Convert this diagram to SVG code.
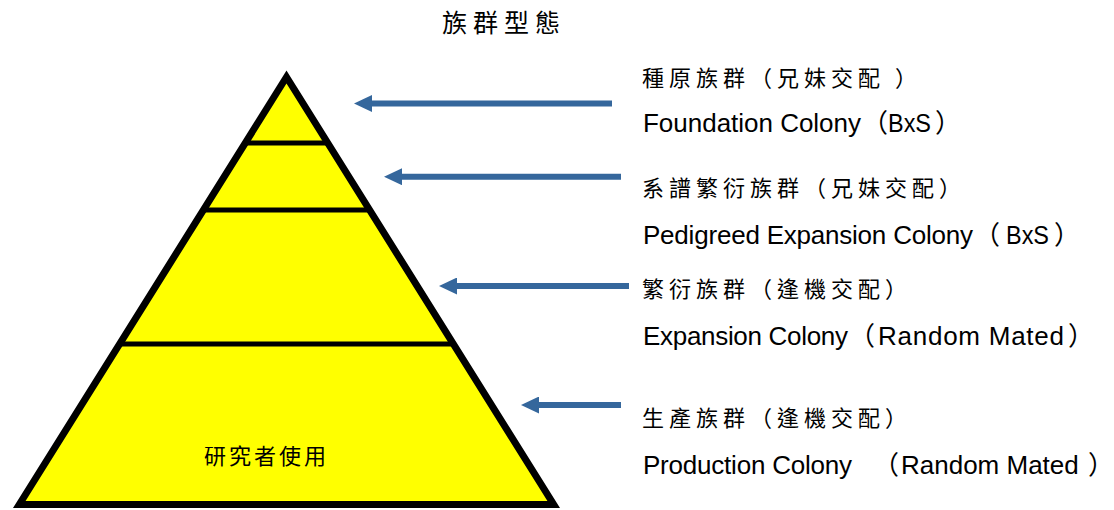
<svg xmlns="http://www.w3.org/2000/svg" width="1114" height="510" viewBox="0 0 1114 510">
  <style>
    .tier { fill: #FFFF00; stroke: none; }
    .divider { stroke: #000000; stroke-width: 5; }
    .outline { fill: none; stroke: #000000; stroke-width: 7; stroke-linejoin: miter; stroke-miterlimit: 10; }
    .arrow { stroke: #35679C; stroke-width: 6; fill: none; marker-end: url(#head); }
    .cjk { font-family: "Noto Sans CJK TC", "Noto Sans CJK SC", sans-serif; font-size: 22px; letter-spacing: 5px; fill: #000000; }
    .en { font-family: "Liberation Sans", Arial, sans-serif; font-size: 26px; fill: #000000; }
    .par { font-family: "Noto Sans CJK TC", "Noto Sans CJK SC", sans-serif; font-size: 26px; fill: #000000; }
  </style>
  <defs>
    <marker id="head" markerUnits="userSpaceOnUse" markerWidth="18" markerHeight="17" refX="8" refY="8.5" orient="auto" viewBox="0 0 18 17">
      <path d="M0,0 L18,8.5 L0,17 Z" fill="#35679C"/>
    </marker>
  </defs>

  <rect width="1114" height="510" fill="#FFFFFF"/>

  <g id="title">
    <text class="cjk" x="442" y="32" style="font-size:25px;letter-spacing:6px">族群型態</text>
  </g>

  <g id="pyramid">
    <g id="tier-foundation">
      <polygon class="tier" points="286.5,77 327.7,143 245.3,143"/>
    </g>
    <g id="tier-pedigreed">
      <polygon class="tier" points="245.3,143 327.7,143 369.6,210 203.4,210"/>
    </g>
    <g id="tier-expansion">
      <polygon class="tier" points="203.4,210 369.6,210 453.3,344 119.7,344"/>
    </g>
    <g id="tier-production">
      <polygon class="tier" points="119.7,344 453.3,344 553.7,504.5 19.3,504.5"/>
      <text class="cjk" x="204" y="464" style="font-size:22px;letter-spacing:3px">研究者使用</text>
    </g>
    <line class="divider" x1="245.3" y1="143" x2="327.7" y2="143"/>
    <line class="divider" x1="203.4" y1="210" x2="369.6" y2="210"/>
    <line class="divider" x1="119.7" y1="344" x2="453.3" y2="344"/>
    <polygon class="outline" points="286.5,77 553.7,504.5 19.3,504.5"/>
  </g>

  <g id="connectors">
    <line class="arrow" x1="612" y1="103.5" x2="364" y2="103.5"/>
    <line class="arrow" x1="621" y1="176.7" x2="394" y2="176.7"/>
    <line class="arrow" x1="629" y1="286" x2="449" y2="286"/>
    <line class="arrow" x1="621" y1="405" x2="531" y2="405"/>
  </g>

  <g id="label-foundation">
    <text class="cjk" x="642" y="86">種原族群（兄妹交配 ）</text>
    <text class="en" x="643" y="132" textLength="218">Foundation Colony</text>
    <text class="par" x="862" y="132">（</text>
    <text class="en" x="888" y="132" textLength="43" lengthAdjust="spacingAndGlyphs">BxS</text>
    <text class="par" x="935" y="132">）</text>
  </g>
  <g id="label-pedigreed">
    <text class="cjk" x="642" y="196">系譜繁衍族群（兄妹交配）</text>
    <text class="en" x="643" y="244" textLength="330">Pedigreed Expansion Colony</text>
    <text class="par" x="974" y="244">（</text>
    <text class="en" x="1006" y="244" textLength="43" lengthAdjust="spacingAndGlyphs">BxS</text>
    <text class="par" x="1054" y="244">）</text>
  </g>
  <g id="label-expansion">
    <text class="cjk" x="642" y="297">繁衍族群（逢機交配）</text>
    <text class="en" x="643" y="345" textLength="205">Expansion Colony</text>
    <text class="par" x="849" y="345">（</text>
    <text class="en" x="878" y="345" textLength="186">Random Mated</text>
    <text class="par" x="1068" y="345">）</text>
  </g>
  <g id="label-production">
    <text class="cjk" x="642" y="426">生產族群（逢機交配）</text>
    <text class="en" x="643" y="474" textLength="209">Production Colony</text>
    <text class="par" x="873" y="474">（</text>
    <text class="en" x="901" y="474">Random Mated</text>
    <text class="par" x="1088" y="474">）</text>
  </g>
</svg>
